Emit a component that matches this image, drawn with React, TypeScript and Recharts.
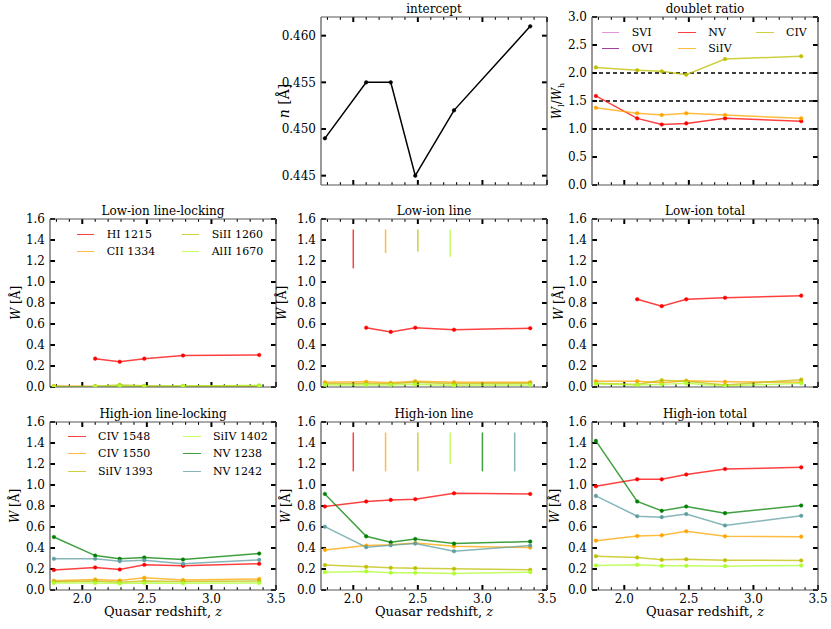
import React from "react";
import { LineChart, Line, XAxis, YAxis, ReferenceLine } from "recharts";

const FONT = "'DejaVu Serif', serif";
const FRAME = "#555555";

const RED = "#ff0000";
const ORANGE = "#ffa500";
const OLIVE = "#bfbf00";
const LIME = "#adff2f";
const GREEN = "#008000";
const TEAL = "#5f9ea0";
const ORCHID = "#da70d6";
const PURPLE = "#800080";

// quasar redshift bins
const zBins = [1.78, 2.1, 2.29, 2.48, 2.78, 3.37];

// x ticks: majors carry labels, the rest are minor
const xTicks = [1.8, 1.9, 2.0, 2.1, 2.2, 2.3, 2.4, 2.5, 2.6, 2.7, 2.8, 2.9, 3.0, 3.1, 3.2, 3.3, 3.4, 3.5];
const wTicks = [0, 0.2, 0.4, 0.6, 0.8, 1.0, 1.2, 1.4, 1.6];
const ratioTicks = [0, 0.5, 1.0, 1.5, 2.0, 2.5, 3.0];
const interceptTicks = [0.445, 0.45, 0.455, 0.46];
const ratioGuides = [1.0, 1.5, 2.0];

// intercept
const intercept = [0.449, 0.455, 0.455, 0.445, 0.452, 0.461];

// doublet ratio
const ratioNV = [1.59, 1.19, 1.08, 1.1, 1.19, 1.14];
const ratioSiIV = [1.38, 1.28, 1.25, 1.28, 1.25, 1.19];
const ratioCIV = [2.1, 2.05, 2.03, 1.97, 2.25, 2.3];

// low-ion line-locking
const llHI = [null, 0.27, 0.24, 0.27, 0.3, 0.305];
const llCII = [0.01, 0.005, 0.005, 0.005, 0.005, 0.005];
const llSiII = [0.005, 0.008, 0.02, 0.012, 0.01, 0.015];
const llAlII = [0.003, 0.004, 0.01, 0.006, 0.006, 0.012];

// low-ion line
const lnHI = [null, 0.565, 0.525, 0.565, 0.545, 0.56];
const lnCII = [0.045, 0.05, 0.04, 0.055, 0.045, 0.045];
const lnSiII = [0.03, 0.03, 0.03, 0.045, 0.03, 0.035];
const lnAlII = [0.02, 0.02, 0.02, 0.025, 0.015, 0.02];

// low-ion total
const ltHI = [null, 0.835, 0.77, 0.835, 0.85, 0.87];
const ltCII = [0.055, 0.055, 0.04, 0.06, 0.05, 0.045];
const ltSiII = [0.035, 0.025, 0.065, 0.055, 0.02, 0.07];
const ltAlII = [0.03, 0.02, 0.025, 0.035, 0.01, 0.035];

// high-ion line-locking
const hlCIV48 = [0.19, 0.215, 0.195, 0.24, 0.23, 0.25];
const hlCIV50 = [0.088, 0.1, 0.09, 0.117, 0.095, 0.104];
const hlSiIV93 = [0.078, 0.085, 0.075, 0.085, 0.08, 0.085];
const hlSiIV02 = [0.066, 0.066, 0.062, 0.066, 0.064, 0.066];
const hlNV38 = [0.505, 0.328, 0.297, 0.31, 0.29, 0.347];
const hlNV42 = [0.297, 0.297, 0.275, 0.284, 0.25, 0.287];

// high-ion line
const hnCIV48 = [0.795, 0.843, 0.858, 0.865, 0.921, 0.915];
const hnCIV50 = [0.382, 0.423, 0.432, 0.448, 0.417, 0.404];
const hnSiIV93 = [0.237, 0.221, 0.211, 0.208, 0.202, 0.192];
const hnSiIV02 = [0.17, 0.177, 0.164, 0.164, 0.158, 0.17];
const hnNV38 = [0.915, 0.511, 0.454, 0.486, 0.442, 0.461];
const hnNV42 = [0.603, 0.407, 0.426, 0.442, 0.369, 0.423];

// high-ion total
const htCIV48 = [0.988, 1.054, 1.054, 1.1, 1.152, 1.168];
const htCIV50 = [0.47, 0.514, 0.521, 0.559, 0.511, 0.508];
const htSiIV93 = [0.322, 0.309, 0.287, 0.293, 0.284, 0.281];
const htSiIV02 = [0.234, 0.24, 0.23, 0.23, 0.227, 0.234];
const htNV38 = [1.42, 0.843, 0.754, 0.795, 0.732, 0.805];
const htNV42 = [0.896, 0.703, 0.694, 0.723, 0.615, 0.707];

// line position markers at the top of the "line" panels
const lowMarkZ = [2.0, 2.25, 2.5, 2.75];
const lowMarkBottom = [1.13, 1.275, 1.29, 1.24];
const highMarkZ = [2.0, 2.25, 2.5, 2.75, 3.0, 3.25];
const highMarkBottom = [1.13, 1.13, 1.13, 1.2, 1.13, 1.13];
const markTop = 1.5;

const lowNames = ["HI 1215", "CII 1334", "SiII 1260", "AlII 1670"];
const lowColors = [RED, ORANGE, OLIVE, LIME];
const highNames = ["CIV 1548", "CIV 1550", "SiIV 1393", "SiIV 1402", "NV 1238", "NV 1242"];
const highColors = [RED, ORANGE, OLIVE, LIME, GREEN, TEAL];

type Series = { name: string; color: string; values: (number | null)[]; solid?: boolean };
type Mark = { z: number; bottom: number; color: string };
type LegendItem = { name: string; color: string };

const makeSeries = (names: string[], colors: string[], values: (number | null)[][]): Series[] =>
  names.map((name, i) => ({ name, color: colors[i], values: values[i] }));

const makeMarks = (zs: number[], bottoms: number[], colors: string[]): Mark[] =>
  zs.map((z, i) => ({ z, bottom: bottoms[i], color: colors[i] }));

// plot area geometry
const PW = 226;
const PH = 168;
const ML = 60;
const MT = 22;
const MR = 12;
const MB = 40;
const COLS = [50, 321, 592];
const ROWS = [17, 219, 422];
const X_DOMAIN: [number, number] = [1.75, 3.5];

const MAJOR_LEN = 5;
const MINOR_LEN = 2.8;
const FRAME_LINE = { stroke: FRAME, strokeWidth: 1.2 };
const TICK_TEXT = { fontSize: 12, fill: "#000", fontFamily: FONT };

const isMajorX = (v: number) => Math.abs(v * 2 - Math.round(v * 2)) < 1e-6;

function XLabel(props: any) {
  const { x, y, payload, showLabel } = props;
  if (!showLabel || !isMajorX(payload.value)) return <g />;
  return (
    <text x={x} y={y + 4} dy="0.71em" textAnchor="middle" {...TICK_TEXT}>
      {payload.value.toFixed(1)}
    </text>
  );
}

interface PanelProps {
  left: number;
  top: number;
  title: string;
  series: Series[];
  yDomain: [number, number];
  yTicks: number[];
  yDigits: number;
  yLabel: React.ReactNode;
  yLabelX: number;
  yLabelSize?: number;
  showX?: boolean;
  marks?: Mark[];
  guides?: number[];
}

function Panel(p: PanelProps) {
  const rows = zBins.map((z, i) => {
    const row: Record<string, number | null> = { z };
    p.series.forEach((s, k) => {
      row["s" + k] = s.values[i];
    });
    return row;
  });

  // inward tick stubs (matplotlib "in" direction), as short segments hugging the frame;
  // ifOverflow="visible" so stubs that start exactly on the domain edge are not discarded
  const [y0, y1] = p.yDomain;
  const [x0, x1] = X_DOMAIN;
  const perPxY = (y1 - y0) / PH;
  const perPxX = (x1 - x0) / PW;

  const tickStubs: React.ReactNode[] = [];
  xTicks.forEach((v) => {
    const major = isMajorX(v);
    const len = (major ? MAJOR_LEN : MINOR_LEN) * perPxY;
    const w = major ? 2 : 1.1;
    tickStubs.push(
      <ReferenceLine key={"xb" + v} ifOverflow="visible" segment={[{ x: v, y: y0 }, { x: v, y: y0 + len }]} stroke="#000" strokeWidth={w} />,
      <ReferenceLine key={"xt" + v} ifOverflow="visible" segment={[{ x: v, y: y1 - len }, { x: v, y: y1 }]} stroke="#000" strokeWidth={w} />
    );
  });
  p.yTicks.forEach((v) => {
    const len = MAJOR_LEN * perPxX;
    tickStubs.push(
      <ReferenceLine key={"yl" + v} ifOverflow="visible" segment={[{ x: x0, y: v }, { x: x0 + len, y: v }]} stroke="#000" strokeWidth={2} />,
      <ReferenceLine key={"yr" + v} ifOverflow="visible" segment={[{ x: x1 - len, y: v }, { x: x1, y: v }]} stroke="#000" strokeWidth={2} />
    );
  });

  return (
    <>
      <div style={{ position: "absolute", left: p.left - ML, top: p.top - MT }}>
        <LineChart
          width={ML + PW + MR}
          height={MT + PH + MB}
          data={rows}
          margin={{ top: MT - 1, right: MR - 1, left: 0, bottom: 0 }}
        >
          <XAxis
            xAxisId="top"
            orientation="top"
            type="number"
            domain={X_DOMAIN}
            allowDataOverflow
            ticks={xTicks}
            height={1}
            tickLine={false}
            axisLine={FRAME_LINE}
            tick={false}
          />
          <YAxis
            yAxisId="right"
            orientation="right"
            type="number"
            domain={p.yDomain}
            allowDataOverflow
            ticks={p.yTicks}
            width={1}
            tickLine={false}
            axisLine={FRAME_LINE}
            tick={false}
          />
          <XAxis
            dataKey="z"
            type="number"
            domain={X_DOMAIN}
            allowDataOverflow
            ticks={xTicks}
            interval={0}
            height={MB}
            tickSize={0}
            tickMargin={0}
            tickLine={false}
            axisLine={FRAME_LINE}
            tick={(tp: any) => <XLabel {...tp} showLabel={p.showX} />}
          />
          <YAxis
            type="number"
            domain={p.yDomain}
            allowDataOverflow
            ticks={p.yTicks}
            interval={0}
            width={ML}
            tickSize={0}
            tickMargin={5}
            tickLine={false}
            axisLine={FRAME_LINE}
            tick={TICK_TEXT}
            tickFormatter={(v: number) => v.toFixed(p.yDigits)}
          />

          {tickStubs}

          {(p.guides ?? []).map((g) => (
            <ReferenceLine key={"g" + g} y={g} stroke="#000" strokeWidth={1.3} strokeDasharray="4 3" />
          ))}

          {(p.marks ?? []).map((m) => (
            <ReferenceLine
              key={"m" + m.z}
              segment={[
                { x: m.z, y: m.bottom },
                { x: m.z, y: markTop },
              ]}
              stroke={m.color}
              strokeOpacity={0.75}
              strokeWidth={1.5}
            />
          ))}

          {p.series.map((s, k) => (
            <Line
              key={s.name}
              type="linear"
              dataKey={"s" + k}
              stroke={s.color}
              strokeWidth={1.5}
              strokeOpacity={s.solid ? 1 : 0.75}
              dot={{ r: 1.8, fill: s.color, stroke: s.color, strokeWidth: 0.5, strokeOpacity: 1, fillOpacity: 1 }}
              connectNulls={false}
              isAnimationActive={false}
            />
          ))}
        </LineChart>
      </div>

      {/* title */}
      <div
        style={{
          position: "absolute",
          left: p.left,
          top: p.top - 15,
          width: PW,
          height: 14,
          lineHeight: "14px",
          textAlign: "center",
          fontSize: 12,
          fontFamily: FONT,
          whiteSpace: "nowrap",
        }}
      >
        {p.title}
      </div>

      {/* y label */}
      <div
        style={{
          position: "absolute",
          left: p.yLabelX - 60,
          top: p.top + PH / 2 - 9,
          width: 120,
          height: 18,
          lineHeight: "18px",
          textAlign: "center",
          fontSize: p.yLabelSize ?? 12,
          fontFamily: FONT,
          transform: "rotate(-90deg)",
          whiteSpace: "nowrap",
        }}
      >
        {p.yLabel}
      </div>

      {p.showX && (
        <div
          style={{
            position: "absolute",
            left: p.left,
            top: p.top + PH + 14,
            width: PW,
            height: 16,
            lineHeight: "16px",
            textAlign: "center",
            fontSize: 13,
            fontFamily: FONT,
            whiteSpace: "nowrap",
          }}
        >
          Quasar redshift, <i>z</i>
        </div>
      )}
    </>
  );
}

function PanelLegend({
  left,
  top,
  columns,
  rows,
}: {
  left: number;
  top: number;
  columns: { x: number; items: LegendItem[] }[];
  rows: number[];
}) {
  return (
    <>
      {columns.map((col, ci) =>
        col.items.map((it, ri) => (
          <div
            key={ci + "-" + ri}
            style={{
              position: "absolute",
              left: left + col.x,
              top: top + rows[ri] - 8,
              height: 16,
              display: "flex",
              alignItems: "center",
              fontFamily: FONT,
              fontSize: 11,
              whiteSpace: "nowrap",
            }}
          >
            <span
              style={{
                display: "inline-block",
                width: 17.6,
                height: 0,
                borderTop: `1.5px solid ${it.color}`,
                opacity: 0.75,
                marginRight: 12.4,
              }}
            />
            {it.name}
          </div>
        ))
      )}
    </>
  );
}

const wLabel = (
  <span>
    <i>W</i> [Å]
  </span>
);

export default function App() {
  const lowLL = makeSeries(lowNames, lowColors, [llHI, llCII, llSiII, llAlII]);
  const lowLine = makeSeries(lowNames, lowColors, [lnHI, lnCII, lnSiII, lnAlII]);
  const lowTot = makeSeries(lowNames, lowColors, [ltHI, ltCII, ltSiII, ltAlII]);
  const highLL = makeSeries(highNames, highColors, [hlCIV48, hlCIV50, hlSiIV93, hlSiIV02, hlNV38, hlNV42]);
  const highLine = makeSeries(highNames, highColors, [hnCIV48, hnCIV50, hnSiIV93, hnSiIV02, hnNV38, hnNV42]);
  const highTot = makeSeries(highNames, highColors, [htCIV48, htCIV50, htSiIV93, htSiIV02, htNV38, htNV42]);
  const ratio: Series[] = [
    { name: "NV", color: RED, values: ratioNV },
    { name: "SiIV", color: ORANGE, values: ratioSiIV },
    { name: "CIV", color: OLIVE, values: ratioCIV },
  ];
  const inter: Series[] = [{ name: "intercept", color: "#000", values: intercept, solid: true }];

  const lowItems = lowNames.map((name, i) => ({ name, color: lowColors[i] }));
  const highItems = highNames.map((name, i) => ({ name, color: highColors[i] }));

  return (
    <div
      style={{
        position: "absolute",
        left: 0,
        top: 0,
        width: 831,
        height: 629,
        background: "#fff",
        overflow: "hidden",
        fontFamily: FONT,
      }}
    >
      <Panel
        left={COLS[1]}
        top={ROWS[0]}
        title="intercept"
        series={inter}
        yDomain={[0.444, 0.462]}
        yTicks={interceptTicks}
        yDigits={3}
        yLabel={
          <span>
            <i>n</i> [Å]
          </span>
        }
        yLabelX={284}
        yLabelSize={14}
      />
      <Panel
        left={COLS[2]}
        top={ROWS[0]}
        title="doublet ratio"
        series={ratio}
        yDomain={[0, 3]}
        yTicks={ratioTicks}
        yDigits={1}
        guides={ratioGuides}
        yLabel={
          <span>
            <i>W</i>
            <sub style={{ fontSize: 8 }}>l</sub>/<i>W</i>
            <sub style={{ fontSize: 8 }}>h</sub>
          </span>
        }
        yLabelX={557}
      />

      <Panel left={COLS[0]} top={ROWS[1]} title="Low-ion line-locking" series={lowLL} yDomain={[0, 1.6]} yTicks={wTicks} yDigits={1} yLabel={wLabel} yLabelX={16} />
      <Panel left={COLS[1]} top={ROWS[1]} title="Low-ion line" series={lowLine} yDomain={[0, 1.6]} yTicks={wTicks} yDigits={1} yLabel={wLabel} yLabelX={282} marks={makeMarks(lowMarkZ, lowMarkBottom, lowColors)} />
      <Panel left={COLS[2]} top={ROWS[1]} title="Low-ion total" series={lowTot} yDomain={[0, 1.6]} yTicks={wTicks} yDigits={1} yLabel={wLabel} yLabelX={559} />

      <Panel left={COLS[0]} top={ROWS[2]} title="High-ion line-locking" series={highLL} yDomain={[0, 1.6]} yTicks={wTicks} yDigits={1} yLabel={wLabel} yLabelX={15} showX />
      <Panel left={COLS[1]} top={ROWS[2]} title="High-ion line" series={highLine} yDomain={[0, 1.6]} yTicks={wTicks} yDigits={1} yLabel={wLabel} yLabelX={286} showX marks={makeMarks(highMarkZ, highMarkBottom, highColors)} />
      <Panel left={COLS[2]} top={ROWS[2]} title="High-ion total" series={highTot} yDomain={[0, 1.6]} yTicks={wTicks} yDigits={1} yLabel={wLabel} yLabelX={555} showX />

      <PanelLegend
        left={COLS[2]}
        top={ROWS[0]}
        rows={[15.7, 31.5]}
        columns={[
          { x: 9.7, items: [{ name: "SVI", color: ORCHID }, { name: "OVI", color: PURPLE }] },
          { x: 86.3, items: [{ name: "NV", color: RED }, { name: "SiIV", color: ORANGE }] },
          { x: 164, items: [{ name: "CIV", color: OLIVE }] },
        ]}
      />
      <PanelLegend
        left={COLS[0]}
        top={ROWS[1]}
        rows={[15.7, 32]}
        columns={[
          { x: 26.7, items: lowItems.slice(0, 2) },
          { x: 131.7, items: lowItems.slice(2, 4) },
        ]}
      />
      <PanelLegend
        left={COLS[0]}
        top={ROWS[2]}
        rows={[14, 31.5, 49]}
        columns={[
          { x: 18, items: highItems.slice(0, 3) },
          { x: 133, items: highItems.slice(3, 6) },
        ]}
      />
    </div>
  );
}
